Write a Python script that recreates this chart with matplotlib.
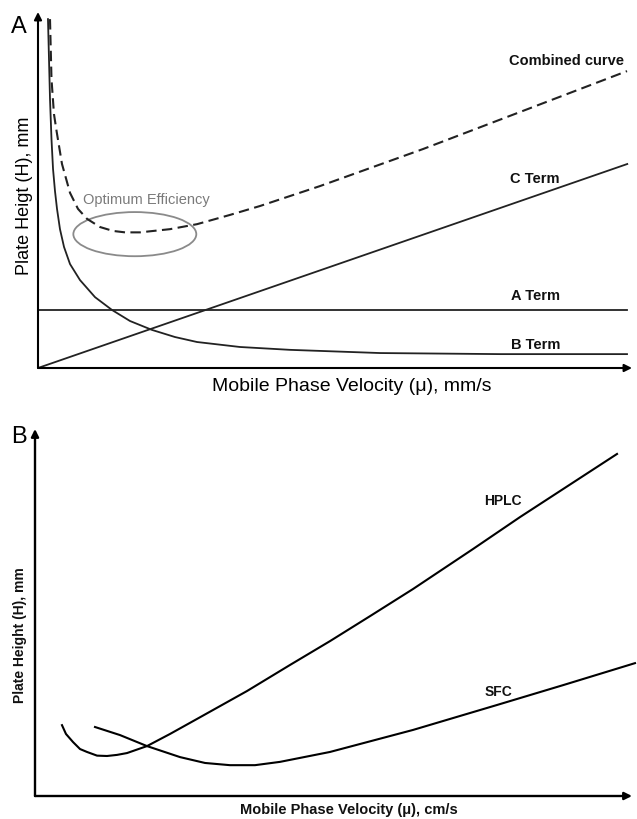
import matplotlib
matplotlib.use("Agg")
import matplotlib.pyplot as plt
from matplotlib.patches import Ellipse

plt.rcParams['font.family'] = ['Liberation Sans', 'DejaVu Sans']

# ---------------- Panel A data (arbitrary units 0-100) ----------------
a_term_x = [0.0, 99.2]
a_term_y = [16.3, 16.3]

c_term_x = [0.0, 99.2]
c_term_y = [0.0, 57.3]

b_term_x = [1.68, 1.85, 2.02, 2.27, 2.53, 2.86, 3.20, 3.70, 4.38, 5.39,
            7.07, 9.60, 12.46, 15.49, 19.19, 23.06, 26.77, 34.01, 42.42,
            57.58, 77.78, 99.16]
b_term_y = [98.0, 86.8, 75.6, 64.3, 55.9, 49.7, 44.7, 39.0, 34.0, 29.2,
            24.7, 19.9, 16.3, 13.2, 10.7, 8.7, 7.3, 5.9, 5.1,
            4.2, 3.9, 3.9]

comb_x = [2.02, 2.27, 2.69, 3.15, 4.04, 5.39, 6.73, 8.25, 10.44, 12.63,
          14.65, 17.17, 22.22, 26.77, 32.32, 37.37, 42.42, 47.47, 64.81,
          81.14, 99.16]
comb_y = [98.0, 81.2, 71.3, 66.3, 57.3, 49.2, 44.7, 41.9, 39.6, 38.5,
          38.1, 38.1, 39.0, 40.4, 43.0, 45.5, 48.3, 51.1, 61.5,
          71.9, 83.4]

# ---------------- Panel B data ----------------
hplc_x = [4.52, 5.19, 6.37, 7.54, 8.71, 10.39, 12.06, 13.74, 15.41, 18.76,
          22.61, 27.14, 35.51, 42.71, 49.41, 56.11, 63.32, 73.37, 81.24, 97.49]
hplc_y = [19.3, 16.9, 14.7, 12.8, 12.0, 11.0, 10.9, 11.2, 11.7, 13.6,
          16.9, 21.0, 28.6, 35.7, 42.2, 49.0, 56.4, 67.3, 76.0, 93.2]

sfc_x = [10.05, 14.24, 18.76, 24.29, 28.48, 32.66, 36.85, 41.04, 49.41,
         63.32, 77.39, 88.44, 100.5]
sfc_y = [18.8, 16.6, 13.6, 10.6, 9.0, 8.4, 8.4, 9.3, 12.0,
         18.0, 24.8, 30.2, 36.2]

W, H = 637, 820
fig = plt.figure(figsize=(W / 100, H / 100), dpi=100)


def axes_px(left, right, top, bottom):
    return fig.add_axes([left / W, 1 - bottom / H, (right - left) / W, (bottom - top) / H])


def arrows(ax, lw):
    for xy in [(0, 1), (1, 0)]:
        ax.annotate('', xy=xy, xytext=(0, 0), xycoords='axes fraction',
                    textcoords='axes fraction',
                    arrowprops=dict(arrowstyle='-|>', lw=lw, color='black',
                                    mutation_scale=11, shrinkA=0, shrinkB=0))


def setup(ax):
    ax.set_xlim(0, 100)
    ax.set_ylim(0, 100)
    for s in ax.spines.values():
        s.set_visible(False)
    ax.set_xticks([])
    ax.set_yticks([])
    ax.patch.set_alpha(0)


# ---------------- Panel A ----------------
axA = axes_px(38, 632, 13, 369)
setup(axA)
arrows(axA, 1.5)
lw = 1.3
axA.plot(a_term_x, a_term_y, color='#222222', lw=lw)
axA.plot(c_term_x, c_term_y, color='#222222', lw=lw)
axA.plot(b_term_x, b_term_y, color='#222222', lw=lw)
axA.plot(comb_x, comb_y, color='#222222', lw=1.5, linestyle=(0, (5, 2.6)))
axA.add_patch(Ellipse((16.3, 37.6), 20.7, 12.4, fill=False,
                      edgecolor='#8a8a8a', lw=1.3))
axA.text(18.3, 47.5, 'Optimum Efficiency', color='#7a7a7a', fontsize=10.5,
         ha='center', va='center')
tkw = dict(fontsize=10.5, fontweight='bold', ha='center', va='center', color='#111111')
axA.text(88.9, 86.5, 'Combined curve', **tkw)
axA.text(83.7, 53.4, 'C Term', **tkw)
axA.text(83.8, 20.5, 'A Term', **tkw)
axA.text(83.8, 6.7, 'B Term', **tkw)

fig.text(19 / W, 1 - 27 / H, 'A', fontsize=17, ha='center', va='center')
fig.text(352 / W, 1 - 387 / H, 'Mobile Phase Velocity (μ), mm/s', fontsize=14,
         ha='center', va='center')
fig.text(25 / W, 1 - 196 / H, 'Plate Heigt (H), mm', fontsize=13, rotation=90,
         ha='center', va='center')

# ---------------- Panel B ----------------
axB = axes_px(35, 632, 430, 797)
setup(axB)
arrows(axB, 1.7)
axB.plot(hplc_x, hplc_y, color='black', lw=1.5, clip_on=False)
axB.plot(sfc_x, sfc_y, color='black', lw=1.5, clip_on=False)
bkw = dict(fontsize=10, fontweight='bold', ha='center', va='center', color='#111111')
axB.text(78.4, 80.7, 'HPLC', **bkw)
axB.text(77.6, 28.6, 'SFC', **bkw)

fig.text(19 / W, 1 - 437 / H, 'B', fontsize=17, ha='center', va='center')
fig.text(349 / W, 1 - 810 / H, 'Mobile Phase Velocity (μ), cm/s', fontsize=10.5,
         fontweight='bold', ha='center', va='center', color='#111111')
fig.text(20 / W, 1 - 635 / H, 'Plate Height (H), mm', fontsize=10, rotation=90,
         fontweight='bold', ha='center', va='center', color='#111111')

fig.savefig('out.png', dpi=100)
